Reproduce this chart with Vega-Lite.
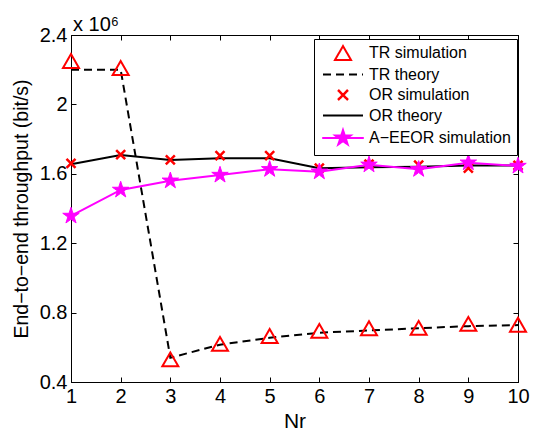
{
  "$schema": "https://vega.github.io/schema/vega-lite/v6.json",
  "width": 447,
  "height": 347,
  "autosize": {"type": "none"},
  "padding": {"left": 71, "top": 35, "right": 15, "bottom": 55},
  "background": "white",
  "title": {"text": "x 10⁶", "anchor": "start", "frame": "group", "fontSize": 20, "fontWeight": "normal", "font": "Liberation Sans", "color": "black", "offset": -10, "dx": 2},
  "config": {
    "view": {"stroke": "black", "strokeWidth": 1},
    "axis": {"labelFont": "Liberation Sans", "labelFontSize": 20, "labelColor": "black", "titleFont": "Liberation Sans", "titleColor": "black", "titleFontWeight": "normal", "tickColor": "black", "domainColor": "black", "tickSize": -5, "grid": false, "labelFlush": false, "labelOverlap": false}
  },
  "data": {"values": [
    {"Nr": 1, "series": "TR simulation", "v": 2.25},
    {"Nr": 2, "series": "TR simulation", "v": 2.21},
    {"Nr": 3, "series": "TR simulation", "v": 0.53},
    {"Nr": 4, "series": "TR simulation", "v": 0.62},
    {"Nr": 5, "series": "TR simulation", "v": 0.665},
    {"Nr": 6, "series": "TR simulation", "v": 0.695},
    {"Nr": 7, "series": "TR simulation", "v": 0.71},
    {"Nr": 8, "series": "TR simulation", "v": 0.712},
    {"Nr": 9, "series": "TR simulation", "v": 0.735},
    {"Nr": 10, "series": "TR simulation", "v": 0.73},
    {"Nr": 1, "series": "TR theory", "v": 2.2},
    {"Nr": 2, "series": "TR theory", "v": 2.2},
    {"Nr": 3, "series": "TR theory", "v": 0.54},
    {"Nr": 4, "series": "TR theory", "v": 0.615},
    {"Nr": 5, "series": "TR theory", "v": 0.655},
    {"Nr": 6, "series": "TR theory", "v": 0.684},
    {"Nr": 7, "series": "TR theory", "v": 0.697},
    {"Nr": 8, "series": "TR theory", "v": 0.71},
    {"Nr": 9, "series": "TR theory", "v": 0.722},
    {"Nr": 10, "series": "TR theory", "v": 0.728},
    {"Nr": 1, "series": "OR simulation", "v": 1.66},
    {"Nr": 2, "series": "OR simulation", "v": 1.71},
    {"Nr": 3, "series": "OR simulation", "v": 1.68},
    {"Nr": 4, "series": "OR simulation", "v": 1.705},
    {"Nr": 5, "series": "OR simulation", "v": 1.705},
    {"Nr": 6, "series": "OR simulation", "v": 1.633},
    {"Nr": 7, "series": "OR simulation", "v": 1.655},
    {"Nr": 8, "series": "OR simulation", "v": 1.65},
    {"Nr": 9, "series": "OR simulation", "v": 1.633},
    {"Nr": 10, "series": "OR simulation", "v": 1.648},
    {"Nr": 1, "series": "OR theory", "v": 1.655},
    {"Nr": 2, "series": "OR theory", "v": 1.708},
    {"Nr": 3, "series": "OR theory", "v": 1.68},
    {"Nr": 4, "series": "OR theory", "v": 1.69},
    {"Nr": 5, "series": "OR theory", "v": 1.69},
    {"Nr": 6, "series": "OR theory", "v": 1.632},
    {"Nr": 7, "series": "OR theory", "v": 1.638},
    {"Nr": 8, "series": "OR theory", "v": 1.64},
    {"Nr": 9, "series": "OR theory", "v": 1.648},
    {"Nr": 10, "series": "OR theory", "v": 1.648},
    {"Nr": 1, "series": "A−EEOR simulation", "v": 1.357},
    {"Nr": 2, "series": "A−EEOR simulation", "v": 1.507},
    {"Nr": 3, "series": "A−EEOR simulation", "v": 1.56},
    {"Nr": 4, "series": "A−EEOR simulation", "v": 1.593},
    {"Nr": 5, "series": "A−EEOR simulation", "v": 1.626},
    {"Nr": 6, "series": "A−EEOR simulation", "v": 1.612},
    {"Nr": 7, "series": "A−EEOR simulation", "v": 1.652},
    {"Nr": 8, "series": "A−EEOR simulation", "v": 1.626},
    {"Nr": 9, "series": "A−EEOR simulation", "v": 1.664},
    {"Nr": 10, "series": "A−EEOR simulation", "v": 1.645}
  ]},
  "resolve": {"axis": {"x": "independent", "y": "independent"}},
  "layer": [
    {
      "transform": [{"filter": "datum.series === 'TR theory'"}],
      "mark": {"type": "line", "strokeWidth": 2, "strokeDash": [8, 5]},
      "encoding": {
        "x": {"field": "Nr", "type": "quantitative", "scale": {"domain": [1, 10], "nice": false, "zero": false},
              "axis": {"orient": "bottom", "values": [1,2,3,4,5,6,7,8,9,10], "title": "Nr", "titleFontSize": 21, "labelPadding": 9, "titlePadding": 4}},
        "y": {"field": "v", "type": "quantitative", "scale": {"domain": [0.4, 2.4], "nice": false, "zero": false},
              "axis": {"orient": "left", "values": [0.4, 0.8, 1.2, 1.6, 2.0, 2.4], "format": "~g", "title": "End−to−end throughput (bit/s)", "titleFontSize": 19.5, "labelPadding": 9, "titlePadding": 8}},
        "color": {"field": "series", "type": "nominal",
          "scale": {"domain": ["TR simulation", "TR theory", "OR simulation", "OR theory", "A−EEOR simulation"], "range": ["#ff0000", "#000000", "#ff0000", "#000000", "#ff00ff"]},
          "legend": {
            "orient": "none", "legendX": 243, "legendY": 4, "title": null,
            "strokeColor": "black", "fillColor": "white", "padding": 6,
            "labelFont": "Liberation Sans", "labelFontSize": 16, "labelColor": "black",
            "symbolSize": 256, "symbolOffset": 15, "labelOffset": 18, "rowPadding": 2.5, "symbolStrokeWidth": 2,
            "encoding": {"symbols": {
              "shape": {"value": {"expr": "datum.value === 'TR simulation' ? 'triangle-up' : datum.value === 'OR simulation' ? 'M-1,-1L1,1M1,-1L-1,1' : datum.value === 'A−EEOR simulation' ? 'M-2.6,0L2.6,0M0,-1L0.2245,-0.309L0.951,-0.309L0.363,0.118L0.588,0.809L0,0.382L-0.588,0.809L-0.363,0.118L-0.951,-0.309L-0.2245,-0.309Z' : 'stroke'"}},
              "size": {"value": {"expr": "datum.value === 'TR simulation' ? 256 : datum.value === 'OR simulation' ? 100 : datum.value === 'A−EEOR simulation' ? 256 : 1600"}},
              "fill": {"value": {"expr": "datum.value === 'A−EEOR simulation' ? '#ff00ff' : 'transparent'"}},
              "fillOpacity": {"value": {"expr": "datum.value === 'A−EEOR simulation' ? 1 : 0"}},
              "stroke": {"value": {"expr": "datum.value === 'TR theory' || datum.value === 'OR theory' ? '#000000' : datum.value === 'A−EEOR simulation' ? '#ff00ff' : '#ff0000'"}},
              "strokeDash": {"value": {"expr": "datum.value === 'TR theory' ? [8, 5] : [1, 0]"}},
              "strokeWidth": {"value": {"expr": "datum.value === 'OR simulation' ? 2.5 : 2"}},
              "opacity": {"value": 1},
              "strokeOpacity": {"value": 1}
            }}
          }}
      }
    },
    {
      "transform": [{"filter": "datum.series === 'TR simulation'"}],
      "mark": {"type": "point", "shape": "triangle-up", "filled": false, "size": 256, "strokeWidth": 2, "opacity": 1},
      "encoding": {
        "x": {"field": "Nr", "type": "quantitative", "axis": null},
        "y": {"field": "v", "type": "quantitative", "axis": null},
        "color": {"field": "series", "type": "nominal"}
      }
    },
    {
      "transform": [{"filter": "datum.series === 'OR theory'"}],
      "mark": {"type": "line", "strokeWidth": 2},
      "encoding": {
        "x": {"field": "Nr", "type": "quantitative", "axis": {"orient": "top", "values": [1,2,3,4,5,6,7,8,9,10], "labels": false, "title": null}},
        "y": {"field": "v", "type": "quantitative", "axis": {"orient": "right", "values": [0.4, 0.8, 1.2, 1.6, 2.0, 2.4], "labels": false, "title": null}},
        "color": {"field": "series", "type": "nominal"}
      }
    },
    {
      "transform": [{"filter": "datum.series === 'OR simulation'"}],
      "mark": {"type": "point", "shape": "M-1,-1L1,1M1,-1L-1,1", "filled": false, "size": 81, "strokeWidth": 2.5, "opacity": 1},
      "encoding": {
        "x": {"field": "Nr", "type": "quantitative", "axis": null},
        "y": {"field": "v", "type": "quantitative", "axis": null},
        "color": {"field": "series", "type": "nominal"}
      }
    },
    {
      "transform": [{"filter": "datum.series === 'A−EEOR simulation'"}],
      "mark": {"type": "line", "strokeWidth": 2},
      "encoding": {
        "x": {"field": "Nr", "type": "quantitative", "axis": null},
        "y": {"field": "v", "type": "quantitative", "axis": null},
        "color": {"field": "series", "type": "nominal"}
      }
    },
    {
      "transform": [{"filter": "datum.series === 'A−EEOR simulation'"}],
      "mark": {"type": "point", "shape": "M0,-1L0.2245,-0.309L0.951,-0.309L0.363,0.118L0.588,0.809L0,0.382L-0.588,0.809L-0.363,0.118L-0.951,-0.309L-0.2245,-0.309Z", "filled": true, "size": 300, "stroke": "#ff00ff", "strokeWidth": 1, "opacity": 1},
      "encoding": {
        "x": {"field": "Nr", "type": "quantitative", "axis": null},
        "y": {"field": "v", "type": "quantitative", "axis": null},
        "color": {"field": "series", "type": "nominal"}
      }
    }
  ]
}
